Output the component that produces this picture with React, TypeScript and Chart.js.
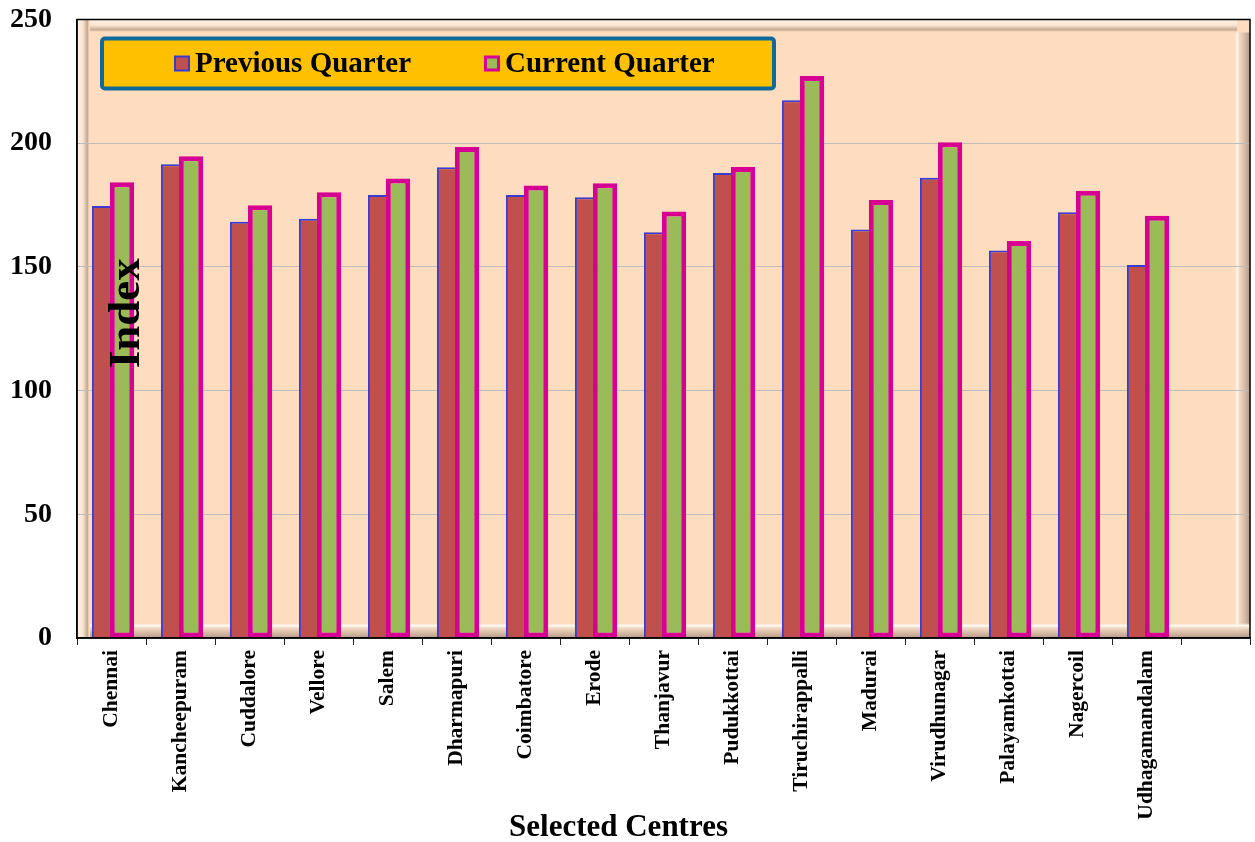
import React, { useEffect, useRef } from 'react';
import { Chart, registerables } from 'chart.js';

Chart.register(...registerables);

const centres = [
  'Chennai', 'Kancheepuram', 'Cuddalore', 'Vellore', 'Salem', 'Dharmapuri',
  'Coimbatore', 'Erode', 'Thanjavur', 'Pudukkottai', 'Tiruchirappalli', 'Madurai',
  'Virudhunagar', 'Palayamkottai', 'Nagercoil', 'Udhagamandalam', '',
];
const previousQuarter = [174.6, 191.5, 168.3, 169.5, 179.1, 190.3, 179.1, 178.2, 164.0, 188.0, 217.4, 165.1, 186.0, 156.6, 172.1, 150.8];
const currentQuarter = [184.2, 194.7, 174.9, 180.2, 185.7, 198.5, 182.9, 183.8, 172.4, 190.4, 227.2, 177.0, 200.4, 160.5, 180.8, 170.7];
const seriesNames = ['Previous Quarter', 'Current Quarter'];
const yMin = 0;
const yMax = 250;
const yStep = 50;
const xTitle = 'Selected Centres';
const yTitle = 'Index';

const FONT = "'Liberation Serif', 'Times New Roman', serif";
const PEACH = '#FDDCBF';
const RED = '#C0504D';
const GREEN = '#9BBB59';
const PINK = '#D60093';
const BLUE = '#3A3AD0';

const framePlugin = {
  id: 'frameBg',
  beforeDraw(chart: any) {
    const { ctx, chartArea: a } = chart;
    const w = a.right - a.left;
    const h = a.bottom - a.top;
    ctx.save();
    ctx.fillStyle = PEACH;
    ctx.fillRect(a.left, a.top, w, h);
    const b = 13;
    // top bevel
    let g = ctx.createLinearGradient(0, a.top, 0, a.top + b);
    g.addColorStop(0, 'rgba(255,246,238,0.9)');
    g.addColorStop(0.45, 'rgba(250,232,215,0.7)');
    g.addColorStop(0.8, 'rgba(175,150,130,0.75)');
    g.addColorStop(1, 'rgba(253,220,191,0)');
    ctx.fillStyle = g;
    ctx.fillRect(a.left + b, a.top, w - 2 * b, b);
    // left bevel
    g = ctx.createLinearGradient(a.left, 0, a.left + b, 0);
    g.addColorStop(0, 'rgba(255,246,238,0.9)');
    g.addColorStop(0.45, 'rgba(250,232,215,0.7)');
    g.addColorStop(0.8, 'rgba(175,150,130,0.75)');
    g.addColorStop(1, 'rgba(253,220,191,0)');
    ctx.fillStyle = g;
    ctx.fillRect(a.left, a.top, b, h);
    // right bevel
    g = ctx.createLinearGradient(a.right - b - 3, 0, a.right, 0);
    g.addColorStop(0, 'rgba(253,220,191,0)');
    g.addColorStop(0.2, 'rgba(255,250,245,0.95)');
    g.addColorStop(0.35, 'rgba(240,215,195,0.8)');
    g.addColorStop(1, 'rgba(175,150,130,0.95)');
    ctx.fillStyle = g;
    ctx.fillRect(a.right - b - 3, a.top + b, b + 3, h - b);
    // bottom bevel
    g = ctx.createLinearGradient(0, a.bottom - b - 2, 0, a.bottom);
    g.addColorStop(0, 'rgba(253,220,191,0)');
    g.addColorStop(0.15, 'rgba(255,252,248,1)');
    g.addColorStop(0.35, 'rgba(240,215,195,0.9)');
    g.addColorStop(1, 'rgba(180,150,125,0.95)');
    ctx.fillStyle = g;
    ctx.fillRect(a.left + b, a.bottom - b - 2, w - b, b + 2);
    ctx.restore();
  },
  afterDraw(chart: any) {
    const { ctx, chartArea: a } = chart;
    ctx.save();
    ctx.strokeStyle = '#000';
    ctx.lineWidth = 1.5;
    ctx.strokeRect(a.left, a.top, a.right - a.left, a.bottom - a.top);
    // x axis title
    ctx.font = `bold 31px ${FONT}`;
    ctx.fillStyle = '#000';
    ctx.textAlign = 'center';
    ctx.textBaseline = 'alphabetic';
    ctx.fillText(xTitle, (a.left + a.right) / 2 - 45, chart.height - 6);
    ctx.restore();
  },
};

const overlayPlugin = {
  id: 'overlay',
  afterDatasetsDraw(chart: any) {
    const { ctx, chartArea: a } = chart;
    ctx.save();
    // Legend box
    const x = a.left + 25;
    const y = a.top + 19;
    const w = 672;
    const h = 50;
    ctx.beginPath();
    ctx.roundRect(x, y, w, h, 3);
    ctx.fillStyle = '#FFC000';
    ctx.fill();
    ctx.lineWidth = 4;
    ctx.strokeStyle = '#0F6A9A';
    ctx.stroke();
    const cy = y + h / 2;
    const items = [
      { mx: x + 72, fill: RED, stroke: BLUE, lw: 2 },
      { mx: x + 382, fill: GREEN, stroke: PINK, lw: 3 },
    ];
    ctx.font = `bold 29px ${FONT}`;
    ctx.textBaseline = 'middle';
    ctx.textAlign = 'left';
    items.forEach((it, i) => {
      const s = 16;
      ctx.fillStyle = it.stroke;
      ctx.fillRect(it.mx, cy - s / 2, s, s);
      ctx.fillStyle = it.fill;
      ctx.fillRect(it.mx + it.lw, cy - s / 2 + it.lw, s - 2 * it.lw, s - 2 * it.lw);
      ctx.fillStyle = '#000';
      ctx.fillText(chart.data.datasets[i].label, it.mx + 21, cy + 1);
    });
    // Y title drawn inside plot
    ctx.translate(a.left + 50, a.top + (a.bottom - a.top) * 0.475);
    ctx.rotate(-Math.PI / 2);
    ctx.font = `bold 45px ${FONT}`;
    ctx.textAlign = 'center';
    ctx.textBaseline = 'middle';
    ctx.fillStyle = '#000';
    ctx.fillText(yTitle, 0, 0);
    ctx.restore();
  },
};

export default function App() {
  const ref = useRef<HTMLCanvasElement | null>(null);
  useEffect(() => {
    if (!ref.current) return;
    const chart = new Chart(ref.current, {
      type: 'bar',
      data: {
        labels: centres,
        datasets: [
          {
            label: seriesNames[0],
            data: previousQuarter,
            backgroundColor: RED,
            borderColor: BLUE,
            borderWidth: { top: 2, left: 2, right: 0, bottom: 0 },
            borderSkipped: false,
            categoryPercentage: 0.61,
            barPercentage: 0.86,
          } as any,
          {
            label: seriesNames[1],
            data: currentQuarter,
            backgroundColor: GREEN,
            borderColor: PINK,
            borderWidth: 5,
            borderSkipped: false,
            categoryPercentage: 0.61,
            barPercentage: 1.16,
          } as any,
        ],
      },
      options: {
        responsive: false,
        animation: false,
        layout: { padding: { top: 19.5, right: 5, left: 0, bottom: 0 } },
        plugins: {
          legend: { display: false },
          tooltip: { enabled: false },
          title: { display: false },
        },
        scales: {
          x: {
            grid: {
              offset: true,
              drawOnChartArea: false,
              drawTicks: true,
              tickLength: 7,
              tickColor: '#222',
            },
            border: { display: true, color: '#000', width: 1.5 },
            ticks: {
              autoSkip: false,
              maxRotation: 90,
              minRotation: 90,
              padding: 5,
              color: '#000',
              font: { family: FONT, size: 21.5, weight: 'bold' },
            },
            afterFit: (s: any) => { s.height = 204; s.paddingLeft = 0; s.paddingRight = 0; },
          },
          y: {
            min: yMin,
            max: yMax,
            ticks: {
              stepSize: yStep,
              padding: 25,
              color: '#000',
              font: { family: FONT, size: 28, weight: 'bold' },
            },
            grid: { color: '#BDBDBD', lineWidth: 1, drawTicks: false },
            border: { display: true, color: '#000', width: 1.5 },
            afterFit: (s: any) => { s.width = 77; s.paddingTop = 0; s.paddingBottom = 0; },
          },
        },
      },
      plugins: [framePlugin, overlayPlugin],
    });
    return () => chart.destroy();
  }, []);
  return (
    <div style={{ position: 'absolute', left: 0, top: 0, width: 1255, height: 842, background: '#fff' }}>
      <canvas ref={ref} width={1255} height={842} style={{ display: 'block' }} />
    </div>
  );
}
